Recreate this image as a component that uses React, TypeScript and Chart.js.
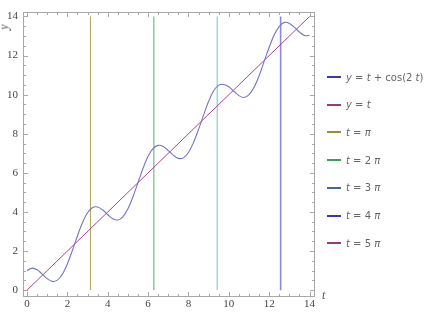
import React, { useEffect, useRef } from "react";
import { Chart, registerables } from "chart.js";

Chart.register(...registerables);

// ---- data ----
const tValues = [
  0, 0.25, 0.5, 0.75, 1, 1.25, 1.5, 1.75, 2, 2.25, 2.5, 2.75, 3, 3.25, 3.5, 3.75,
  4, 4.25, 4.5, 4.75, 5, 5.25, 5.5, 5.75, 6, 6.25, 6.5, 6.75, 7, 7.25, 7.5, 7.75,
  8, 8.25, 8.5, 8.75, 9, 9.25, 9.5, 9.75, 10, 10.25, 10.5, 10.75, 11, 11.25, 11.5,
  11.75, 12, 12.25, 12.5, 12.75, 13, 13.25, 13.5, 13.75, 14,
];
const curveValues = [
  1.0, 1.128, 1.04, 0.821, 0.584, 0.449, 0.51, 0.814, 1.346, 2.039, 2.784, 3.459,
  3.96, 4.227, 4.254, 4.097, 3.855, 3.648, 3.589, 3.753, 4.161, 4.775, 5.504, 6.233,
  6.844, 7.248, 7.407, 7.345, 7.137, 6.895, 6.74, 6.767, 7.042, 7.556, 8.225, 8.965,
  9.66, 10.197, 10.489, 10.523, 10.408, 10.175, 9.952, 9.854, 10.0, 10.377, 10.967,
  11.701, 12.424, 13.061, 13.491, 13.699, 13.647, 13.44, 13.208, 13.024, 13.037,
];
const diagonalT = [0, 14];
const diagonalY = [0, 14];
const verticalT = [3.1416, 6.2832, 9.4248, 12.5664, 15.708];
const verticalYRange = [0, 14];
const xTickValues = [0, 2, 4, 6, 8, 10, 12, 14];
const yTickValues = [0, 2, 4, 6, 8, 10, 12, 14];

const legendLabels = [
  "y = t + cos(2 t)",
  "y = t",
  "t = π",
  "t = 2 π",
  "t = 3 π",
  "t = 4 π",
  "t = 5 π",
];
const plotColors = ["#7474c4", "#9a3282", "#a8a452", "#6cc27c", "#8ad4d4", "#8a8ad6", "#9a3282"];
const plotWidths = [1.1, 0.9, 1, 1.2, 1.3, 1.6, 1];
const legendColors = ["#3b3b98", "#9c3a72", "#9a8c3a", "#3c9c5c", "#3f68a0", "#3b3b98", "#9c3a72"];

function renderMath(label: string) {
  const parts = label.split(/(\by\b|\bt\b|π)/);
  return parts.map((p, i) =>
    p === "y" || p === "t" || p === "π" ? (
      <i key={i}>{p}</i>
    ) : (
      <span key={i}>{p}</span>
    )
  );
}

const framePlugin = {
  id: "framePlugin",
  afterDraw(chart: any) {
    const { ctx, chartArea } = chart;
    const xs = chart.scales.x;
    const ys = chart.scales.y;
    ctx.save();
    ctx.strokeStyle = "#a8a8a8";
    ctx.lineWidth = 1;
    const l = Math.round(chartArea.left) + 0.5;
    const r = Math.round(chartArea.right) + 0.5;
    const t = Math.round(chartArea.top) + 0.5;
    const b = Math.round(chartArea.bottom) + 0.5;
    ctx.strokeRect(l, t, r - l, b - t);
    ctx.beginPath();
    for (let i = 0; i <= 28; i++) {
      const v = i * 0.5;
      const major = i % 4 === 0;
      const len = major ? 4.5 : 2.5;
      const px = Math.round(xs.getPixelForValue(v)) + 0.5;
      if (px > l && px < r) {
        ctx.moveTo(px, b);
        ctx.lineTo(px, b - len);
        ctx.moveTo(px, t);
        ctx.lineTo(px, t + len);
      }
      const py = Math.round(ys.getPixelForValue(v)) + 0.5;
      if (py > t && py < b) {
        ctx.moveTo(l, py);
        ctx.lineTo(l + len, py);
        ctx.moveTo(r, py);
        ctx.lineTo(r - len, py);
      }
    }
    ctx.stroke();
    ctx.restore();
  },
};

export default function App() {
  const canvasRef = useRef<HTMLCanvasElement | null>(null);

  useEffect(() => {
    document.body.style.margin = "0";
    const canvas = canvasRef.current;
    if (!canvas) return;

    const datasets: any[] = [];
    datasets.push({
      label: legendLabels[0],
      data: tValues.map((t, i) => ({ x: t, y: curveValues[i] })),
      borderColor: plotColors[0],
      borderWidth: plotWidths[0],
      pointRadius: 0,
      tension: 0.35,
      fill: false,
    });
    datasets.push({
      label: legendLabels[1],
      data: diagonalT.map((t, i) => ({ x: t, y: diagonalY[i] })),
      borderColor: plotColors[1],
      borderWidth: plotWidths[1],
      pointRadius: 0,
      fill: false,
    });
    verticalT.forEach((tv, k) => {
      datasets.push({
        label: legendLabels[k + 2],
        data: verticalYRange.map((yv) => ({ x: tv, y: yv })),
        borderColor: plotColors[k + 2],
        borderWidth: plotWidths[k + 2],
        pointRadius: 0,
        fill: false,
      });
    });

    const tickFont = { family: "'Liberation Serif', serif", size: 11 };

    const chart = new Chart(canvas, {
      type: "line",
      data: { datasets },
      plugins: [framePlugin],
      options: {
        animation: false,
        responsive: false,
        maintainAspectRatio: false,
        layout: { padding: { top: 4, right: 113, left: 0, bottom: 0 } },
        plugins: { legend: { display: false }, tooltip: { enabled: false } },
        scales: {
          x: {
            type: "linear",
            min: -0.2,
            max: 14.22,
            grid: { display: false, drawTicks: false },
            border: { display: false },
            afterBuildTicks: (scale: any) => {
              scale.ticks = xTickValues.map((v) => ({ value: v }));
            },
            afterFit: (scale: any) => {
              scale.height = 16;
            },
            ticks: {
              font: tickFont,
              color: "#444",
              padding: 2,
              maxRotation: 0,
              autoSkip: false,
            },
          },
          y: {
            type: "linear",
            min: -0.3,
            max: 14.25,
            grid: { display: false, drawTicks: false },
            border: { display: false },
            afterBuildTicks: (scale: any) => {
              scale.ticks = yTickValues.map((v) => ({ value: v }));
            },
            afterFit: (scale: any) => {
              scale.width = 23;
            },
            ticks: {
              font: tickFont,
              color: "#444",
              padding: 5,
              autoSkip: false,
            },
          },
        },
      },
    });
    return () => chart.destroy();
  }, []);

  return (
    <div style={{ position: "relative", width: 427, height: 312, background: "#fff", overflow: "hidden" }}>
      <canvas ref={canvasRef} width={427} height={312} style={{ position: "absolute", left: 0, top: 0 }} />
      <span
        style={{
          position: "absolute",
          left: 1,
          top: 21,
          fontFamily: "'Liberation Serif', serif",
          fontStyle: "italic",
          fontSize: 12,
          color: "#555",
          transform: "rotate(-90deg)",
          lineHeight: "12px",
        }}
      >
        y
      </span>
      <span
        style={{
          position: "absolute",
          left: 322,
          top: 289,
          fontFamily: "'Liberation Serif', serif",
          fontStyle: "italic",
          fontSize: 12,
          color: "#555",
          lineHeight: "12px",
        }}
      >
        t
      </span>
      {legendLabels.map((lab, i) => (
        <div
          key={i}
          style={{
            position: "absolute",
            left: 327,
            top: 77 + i * 27.7 - 7,
            height: 14,
            display: "flex",
            alignItems: "center",
            whiteSpace: "nowrap",
            fontFamily: "'DejaVu Sans', sans-serif",
            fontSize: 10,
            color: "#666",
          }}
        >
          <span style={{ display: "inline-block", width: 14, height: 2, background: legendColors[i], marginRight: 5 }} />
          <span>{renderMath(lab)}</span>
        </div>
      ))}
    </div>
  );
}
